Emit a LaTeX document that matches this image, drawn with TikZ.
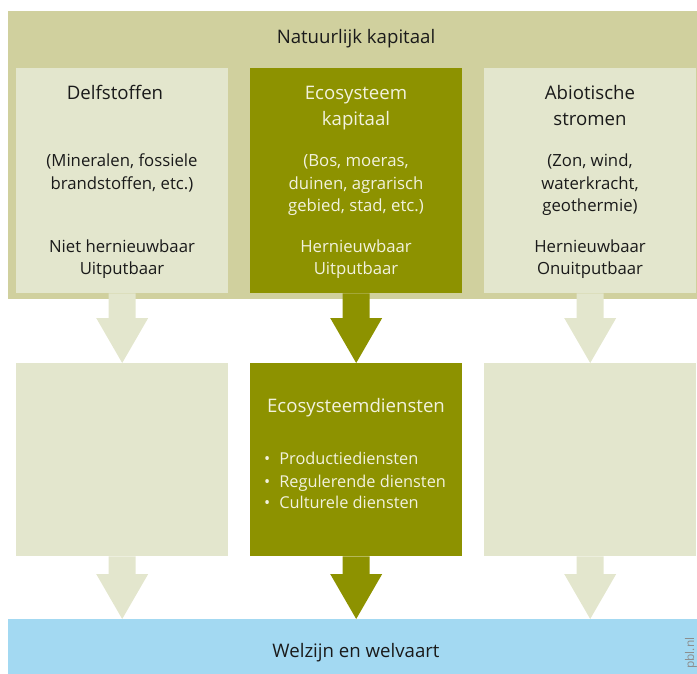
\documentclass[tikz,border=0pt]{standalone}
\usepackage{fontspec}
\setmainfont{Open Sans}
\usetikzlibrary{calc}
\definecolor{band}{RGB}{208,208,158}
\definecolor{lightbox}{RGB}{227,230,205}
\definecolor{olive}{RGB}{141,146,0}
\definecolor{skyblue}{RGB}{163,217,242}
\definecolor{darktxt}{RGB}{26,26,26}
\definecolor{lighttxt}{RGB}{242,242,222}
\tikzset{
  box/.style={rectangle,inner sep=0pt,minimum width=212bp,minimum height=225bp,anchor=north west},
  box2/.style={rectangle,inner sep=0pt,minimum width=212bp,minimum height=193bp,anchor=north west},
  head/.style={anchor=base,inner sep=0pt,font=\fontsize{18.7}{21}\selectfont},
  body/.style={anchor=base,inner sep=0pt,font=\fontsize{16.8}{19}\selectfont},
  item/.style={anchor=base west,inner sep=0pt,font=\fontsize{16.4}{19}\selectfont,text=lighttxt},
}
\newcommand\blockarrow[3]{%
  \coordinate (tip) at (#1.south |- #2.north);
  \fill[#3] ($(#1.south)+(-13.5,0)$) -- ($(#1.south)+(13.5,0)$)
    -- ($(tip)+(13.5,-45)$) -- ($(tip)+(26,-45)$) -- (tip)
    -- ($(tip)+(-26,-45)$) -- ($(tip)+(-13.5,-45)$) -- cycle;}
\begin{document}
\begin{tikzpicture}[x=1bp,y=-1bp]
\useasboundingbox (0,0) rectangle (697,674);
% background bands
\node[rectangle,inner sep=0pt,fill=band,minimum width=689bp,minimum height=288bp,anchor=north west] (nat) at (8,11) {};
\node[rectangle,inner sep=0pt,fill=skyblue,minimum width=689bp,minimum height=55bp,anchor=north west] (wel) at (8,619) {};
% top boxes
\node[box,fill=lightbox] (del) at (16,68) {};
\node[box,fill=olive] (eco) at (250,68) {};
\node[box,fill=lightbox] (abi) at (484,68) {};
% second row
\node[box2,fill=lightbox] (del2) at (16,363) {};
\node[box2,fill=olive] (eco2) at (250,363) {};
\node[box2,fill=lightbox] (abi2) at (484,363) {};
% arrows
\blockarrow{del}{del2}{lightbox}
\blockarrow{eco}{eco2}{olive}
\blockarrow{abi}{abi2}{lightbox}
\blockarrow{del2}{wel}{lightbox}
\blockarrow{eco2}{wel}{olive}
\blockarrow{abi2}{wel}{lightbox}
% texts
\node[head,text=darktxt] (tnat) at (356,44) {Natuurlijk kapitaal};
\node[head,text=darktxt] (t1a) at (115,100) {Delfstoffen};
\node[body,text=darktxt] (t1b) at (122,166) {(Mineralen, fossiele};
\node[body,text=darktxt] (t1c) at (122,189) {brandstoffen, etc.)};
\node[body,text=darktxt] (t1d) at (122,252) {Niet hernieuwbaar};
\node[body,text=darktxt] (t1e) at (122,274) {Uitputbaar};
\node[head,text=lighttxt] (t2a) at (356,100) {Ecosysteem};
\node[head,text=lighttxt] (t2b) at (356,126) {kapitaal};
\node[body,text=lighttxt] (t2c) at (356,166) {(Bos, moeras,};
\node[body,text=lighttxt] (t2d) at (356,189) {duinen, agrarisch};
\node[body,text=lighttxt] (t2e) at (356,211) {gebied, stad, etc.)};
\node[body,text=lighttxt] (t2f) at (356,252) {Hernieuwbaar};
\node[body,text=lighttxt] (t2g) at (356,274) {Uitputbaar};
\node[head,text=darktxt] (t3a) at (590,100) {Abiotische};
\node[head,text=darktxt] (t3b) at (590,126) {stromen};
\node[body,text=darktxt] (t3c) at (590,166) {(Zon, wind,};
\node[body,text=darktxt] (t3d) at (590,189) {waterkracht,};
\node[body,text=darktxt] (t3e) at (590,211) {geothermie)};
\node[body,text=darktxt] (t3f) at (590,252) {Hernieuwbaar};
\node[body,text=darktxt] (t3g) at (590,274) {Onuitputbaar};
\node[head,text=lighttxt] (t4a) at (356,412) {Ecosysteemdiensten};
\node[item] (t4b) at (264,464) {•\hspace{9bp}Productiediensten};
\node[item] (t4c) at (264,487) {•\hspace{9bp}Regulerende diensten};
\node[item] (t4d) at (264,508) {•\hspace{9bp}Culturele diensten};
\node[head,text=darktxt] (t5) at (356,657) {Welzijn en welvaart};
\node[rotate=90,anchor=base west,inner sep=0pt,text=black!45,font=\fontsize{12}{14}\selectfont] (pbl) at (694,669) {pbl.nl};
\end{tikzpicture}
\end{document}
